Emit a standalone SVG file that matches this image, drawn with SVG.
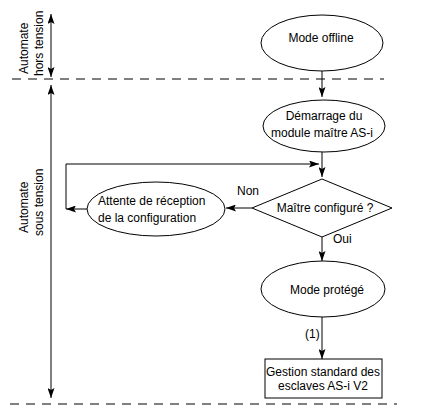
<svg xmlns="http://www.w3.org/2000/svg" width="440" height="418" viewBox="0 0 440 418">
<defs>
<marker id="arr" viewBox="0 0 10 7" refX="10" refY="3.5" markerWidth="10" markerHeight="7" markerUnits="userSpaceOnUse" orient="auto-start-reverse">
<path d="M0,0 L10,3.5 L0,7 L2,3.5 z" fill="#000"/>
</marker>
</defs>
<style>
.shape{fill:#fff;stroke:#000;stroke-width:1}
.line{fill:none;stroke:#000;stroke-width:1}
.dash{fill:none;stroke:#000;stroke-width:1;stroke-dasharray:9 7}
text{font-family:"Liberation Sans",Arial,sans-serif;font-size:12px;fill:#000}
.c{text-anchor:middle}
</style>
<rect width="440" height="418" fill="#fff"/>
<g id="zones">
<line class="dash" x1="12" y1="79" x2="384" y2="79"/>
<line class="dash" x1="10" y1="404" x2="397" y2="404"/>
<line class="line" x1="51" y1="14" x2="51" y2="77" marker-start="url(#arr)" marker-end="url(#arr)"/>
<line class="line" x1="51" y1="85" x2="51" y2="398" marker-start="url(#arr)" marker-end="url(#arr)"/>
<text transform="translate(28,74) rotate(-90)">Automate</text>
<text transform="translate(43,76) rotate(-90)">hors tension</text>
<text transform="translate(28,233) rotate(-90)">Automate</text>
<text transform="translate(43,236) rotate(-90)">sous tension</text>
</g>
<g id="connectors">
<line class="line" x1="322" y1="71" x2="322" y2="97" marker-end="url(#arr)"/>
<line class="line" x1="322" y1="152" x2="322" y2="177" marker-end="url(#arr)"/>
<polyline class="line" points="66,209 66,164 319,164" marker-end="url(#arr)"/>
<line class="line" x1="87" y1="209" x2="66" y2="209" marker-end="url(#arr)"/>
<line class="line" x1="252" y1="208" x2="226" y2="208" marker-end="url(#arr)"/>
<line class="line" x1="322" y1="237" x2="322" y2="261" marker-end="url(#arr)"/>
<line class="line" x1="322" y1="317" x2="322" y2="359" marker-end="url(#arr)"/>
<text x="237" y="195">Non</text>
<text x="333" y="243">Oui</text>
<text x="305" y="338">(1)</text>
</g>
<g id="mode-offline">
<ellipse class="shape" cx="322" cy="43" rx="61" ry="28"/>
<text class="c" x="321" y="42">Mode offline</text>
</g>
<g id="demarrage">
<ellipse class="shape" cx="324" cy="126" rx="61" ry="26"/>
<text class="c" x="324" y="120">Démarrage du</text>
<text class="c" x="322" y="137">module maître AS-i</text>
</g>
<g id="maitre-configure">
<polygon class="shape" points="322,179 392,208 322,237 252,208"/>
<text class="c" x="325" y="212">Maître configuré ?</text>
</g>
<g id="attente">
<ellipse class="shape" cx="156" cy="209" rx="69" ry="27"/>
<text x="98" y="205">Attente de réception</text>
<text x="98" y="222">de la configuration</text>
</g>
<g id="mode-protege">
<ellipse class="shape" cx="323" cy="289" rx="62" ry="28"/>
<text class="c" x="327" y="294">Mode protégé</text>
</g>
<g id="gestion">
<rect class="shape" x="265" y="359" width="117" height="39"/>
<text class="c" x="323" y="376">Gestion standard des</text>
<text class="c" x="323" y="390">esclaves AS-i V2</text>
</g>
</svg>
